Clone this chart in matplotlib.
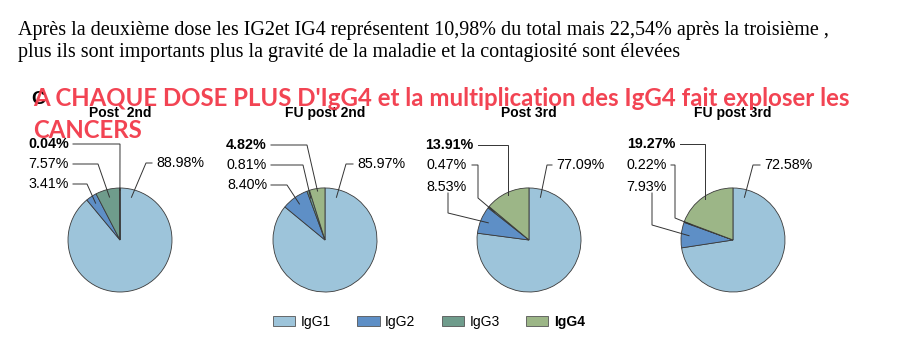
import numpy as np
import matplotlib
matplotlib.use("Agg")
import matplotlib.pyplot as plt
from matplotlib.patches import Patch

# data
groups = ["Post  2nd", "FU post 2nd", "Post 3rd", "FU post 3rd"]
subclasses = ["IgG1", "IgG2", "IgG3", "IgG4"]
igg1 = [88.98, 85.97, 77.09, 72.58]
igg2 = [3.41, 8.40, 8.53, 7.93]
igg3 = [7.57, 0.81, 0.47, 0.22]
igg4 = [0.04, 4.82, 13.91, 19.27]

colors = ["#9dc4da", "#5e8fc6", "#6f9c8c", "#9cb687"]

W, H = 907, 360
fig = plt.figure(figsize=(W / 100, H / 100), dpi=100)
ax = fig.add_axes([0, 0, 1, 1])

# pixel layout (image coords, y down)
centers_x = [120, 325, 529, 733]
center_y = 240
R = 52

# label layout per pie: text pos (x, y) and leader points before the target
# order: IgG1, IgG2, IgG3, IgG4
layout = [
    [((156, 163), [(152, 163), (146, 163)]),
     ((69, 184), [(73, 184), (87, 184)]),
     ((69, 164), [(73, 164), (98, 164)]),
     ((69, 144), [(73, 144), (120, 144)])],
    [((357, 164), [(353, 164), (346, 164)]),
     ((267, 185), [(271, 185), (287, 185)]),
     ((267, 165), [(271, 165), (303, 165)]),
     ((267, 145), [(271, 145), (307, 145)])],
    [((556, 165), [(552, 165), (547, 165)]),
     ((467, 187), [(448, 193), (448, 213)]),
     ((467, 165), [(472, 165), (478, 165), (478, 198)]),
     ((473, 145), [(478, 145), (None, 145)])],
    [((764, 165), [(760, 165), (753, 165)]),
     ((667, 187), [(652, 193), (652, 225)]),
     ((667, 165), [(671, 165), (675, 165), (675, 218)]),
     ((675, 144), [(680, 144), (None, 144)])],
]

def up(y):
    return H - y

for i in range(4):
    vals = [igg1[i], igg2[i], igg3[i], igg4[i]]
    cx = centers_x[i]
    explode = [0, 0, 0, 0.1]
    wedges, _ = ax.pie(vals, colors=colors, startangle=90, counterclock=False,
                       explode=explode, radius=R, center=(cx, up(center_y)),
                       wedgeprops=dict(edgecolor="#3a3a3a", linewidth=0.6))
    ax.text(cx, up(113), groups[i], ha="center", va="center", fontsize=10,
            fontweight="bold", family="Liberation Sans")
    for k in range(4):
        w = wedges[k]
        if k == 0:
            ang = w.theta2 - 15
        else:
            ang = (w.theta1 + w.theta2) / 2
        r = 0.85 * R + (0.1 * R if k == 3 else 0)
        tx = w.center[0] + r * np.cos(np.radians(ang))
        ty = w.center[1] + r * np.sin(np.radians(ang))
        (lx, ly), pts = layout[i][k]
        xs, ys = [], []
        for px, py in pts:
            xs.append(tx if px is None else px)
            ys.append(up(py))
        xs.append(tx)
        ys.append(ty)
        ax.plot(xs, ys, color="#333333", lw=0.7, solid_joinstyle="miter")
        ha = "left" if k == 0 else "right"
        ax.text(lx, up(ly), f"{vals[k]:.2f}%", ha=ha, va="center", fontsize=10.3,
                family="Liberation Sans",
                fontweight="bold" if k == 3 else "normal")

ax.set_xlim(0, W)
ax.set_ylim(0, H)
ax.set_aspect("auto")
ax.axis("off")

# text on top
ax.text(18, up(30), "Après la deuxième dose les IG2et IG4 représentent 10,98% du total mais 22,54% après la troisième ,",
        ha="left", va="center", fontsize=14.5, family="Liberation Serif")
ax.text(18, up(52), "plus ils sont importants plus la gravité de la maladie et la contagiosité sont élevées",
        ha="left", va="center", fontsize=14.5, family="Liberation Serif")

ax.text(31, up(100), "C", ha="left", va="center", fontsize=14, fontweight="bold",
        family="Liberation Sans")
ax.text(33, up(99), "A CHAQUE DOSE PLUS D'IgG4 et la multiplication des IgG4 fait exploser les",
        ha="left", va="center", fontsize=17.3, fontweight="bold", family="Lato",
        color="#f23a4a", alpha=0.95)
ax.text(33, up(130), "CANCERS", ha="left", va="center", fontsize=17.3, fontweight="bold",
        family="Lato", color="#f23a4a", alpha=0.95)

handles = [Patch(facecolor=c, edgecolor="#555555", linewidth=0.6) for c in colors]
leg = fig.legend(handles, subclasses, loc="center", bbox_to_anchor=(429 / W, 1 - 322 / H),
                 ncol=4, frameon=False, handlelength=1.6, handleheight=0.65,
                 columnspacing=1.9, handletextpad=0.4,
                 prop={"family": "Liberation Sans", "size": 10})
leg.get_texts()[3].set_fontweight("bold")

fig.savefig("out.png", dpi=100)
